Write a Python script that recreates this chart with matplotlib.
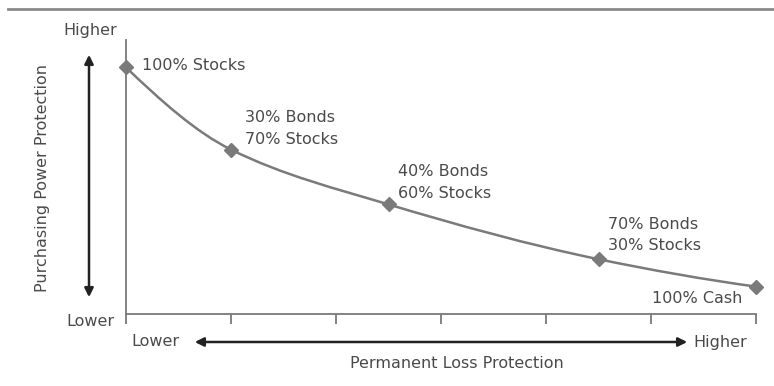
import matplotlib
matplotlib.use("Agg")
import matplotlib.pyplot as plt
from matplotlib.path import Path
from matplotlib.patches import PathPatch, FancyArrowPatch
from matplotlib.lines import Line2D
import numpy as np

# Portfolio mixes along the protection trade-off curve
labels = ["100% Stocks", "30% Bonds\n70% Stocks", "40% Bonds\n60% Stocks",
          "70% Bonds\n30% Stocks", "100% Cash"]
loss_protection = [0, 1, 2.5, 4.5, 6]
power_protection = [9, 6, 4, 2, 1]

TEXT = "#4a4a4a"
GREY = "#7a7a7a"
plt.rcParams["font.family"] = ["DejaVu Sans"]

fig = plt.figure(figsize=(7.74, 3.86), dpi=100)
ax = fig.add_axes([126 / 774, 72 / 386, 630 / 774, 274 / 386])
ax.set_xlim(0, 6)
ax.set_ylim(0, 10)


# Smooth curve through the points: PCHIP-style tangents, drawn as cubic Bezier
def smooth_path(xs, ys):
    x = np.asarray(xs, float)
    y = np.asarray(ys, float)
    h = np.diff(x)
    d = np.diff(y) / h
    m = np.empty_like(y)
    w1 = 2 * h[1:] + h[:-1]
    w2 = h[1:] + 2 * h[:-1]
    m[1:-1] = (w1 + w2) / (w1 / d[:-1] + w2 / d[1:])
    m[0] = ((2 * h[0] + h[1]) * d[0] - h[0] * d[1]) / (h[0] + h[1])
    m[-1] = ((2 * h[-1] + h[-2]) * d[-1] - h[-1] * d[-2]) / (h[-1] + h[-2])
    verts = [(x[0], y[0])]
    codes = [Path.MOVETO]
    for i in range(len(x) - 1):
        verts += [(x[i] + h[i] / 3, y[i] + m[i] * h[i] / 3),
                  (x[i + 1] - h[i] / 3, y[i + 1] - m[i + 1] * h[i] / 3),
                  (x[i + 1], y[i + 1])]
        codes += [Path.CURVE4] * 3
    return Path(verts, codes)


ax.add_patch(PathPatch(smooth_path(loss_protection, power_protection),
                       facecolor="none", edgecolor=GREY, lw=1.8, clip_on=False))
ax.plot(loss_protection, power_protection, linestyle="none", marker="D",
        markersize=7, color=GREY, clip_on=False, zorder=3)

offsets = [(16, 2, "left"), (14, 21, "left"), (10, 22, "left"),
           (9, 24, "left"), (-14, -12, "right")]
for lab, x, y, (dx, dy, ha) in zip(labels, loss_protection, power_protection, offsets):
    ax.annotate(lab, (x, y), xytext=(dx, dy), textcoords="offset pixels",
                ha=ha, va="center", fontsize=11.5, color=TEXT, linespacing=1.55)

for side in ["top", "right"]:
    ax.spines[side].set_visible(False)
for side in ["left", "bottom"]:
    ax.spines[side].set_color(GREY)
    ax.spines[side].set_linewidth(1.3)
ax.set_xticks(range(7))
ax.set_xticklabels([])
ax.set_yticks([])
ax.tick_params(axis="x", length=7, width=1.3, color=GREY)

# Rule across the top
fig.add_artist(Line2D([8 / 774, 1], [1 - 9 / 386] * 2, color="#8a8a8a", lw=2))

# Vertical axis arrow and labels
fig.add_artist(FancyArrowPatch((89 / 774, 1 - 300 / 386), (89 / 774, 1 - 52 / 386),
                               arrowstyle="<|-|>", mutation_scale=13, lw=1.8,
                               color="#222222", transform=fig.transFigure))
fig.text(90 / 774, 1 - 30 / 386, "Higher", ha="center", va="center", fontsize=11.5, color=TEXT)
fig.text(90 / 774, 1 - 322 / 386, "Lower", ha="center", va="center", fontsize=11.5, color=TEXT)
fig.text(43 / 774, 1 - 178 / 386, "Purchasing Power Protection", rotation=90,
         ha="center", va="center", fontsize=11.5, color=TEXT)

# Horizontal axis arrow and labels
fig.add_artist(FancyArrowPatch((192 / 774, 1 - 342 / 386), (690 / 774, 1 - 342 / 386),
                               arrowstyle="<|-|>", mutation_scale=13, lw=1.8,
                               color="#222222", transform=fig.transFigure))
fig.text(155 / 774, 1 - 342 / 386, "Lower", ha="center", va="center", fontsize=11.5, color=TEXT)
fig.text(720 / 774, 1 - 342 / 386, "Higher", ha="center", va="center", fontsize=11.5, color=TEXT)
fig.text(457 / 774, 1 - 363 / 386, "Permanent Loss Protection", ha="center",
         va="center", fontsize=11.5, color=TEXT)

fig.savefig("out.png", dpi=100)
